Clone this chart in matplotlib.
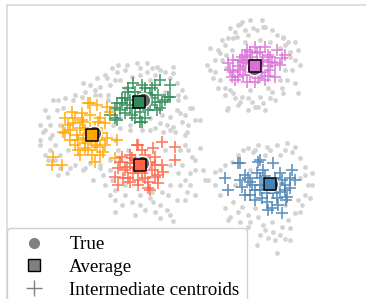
import matplotlib
matplotlib.use("Agg")
import matplotlib.pyplot as plt
from matplotlib.lines import Line2D

W, H = 366, 299
plt.rcParams['font.family'] = ['Liberation Serif', 'DejaVu Serif']

# ---- data (arbitrary plane units; y grows downward) ----
cluster_colors = ['orchid', 'seagreen', 'orange', 'tomato', 'steelblue']
true_x = [254, 143, 94, 142, 271]
true_y = [68, 100, 133, 163, 184]
avg_x = [255, 139, 92, 140, 270]
avg_y = [66, 102, 135, 165, 184]

dots_x = [262, 238, 230, 235, 245, 257, 265, 228, 237, 248, 277, 283, 288, 295, 298, 210, 220, 215, 207, 290,
          295, 292, 287, 295, 215, 220, 225, 233, 242, 248, 260, 272, 283, 275, 263, 255, 248, 238, 228, 298,
          213, 242, 240, 253, 263, 233, 283, 258, 225, 232, 270, 280, 226, 230, 280, 268, 250, 245, 260, 222,
          222, 218, 226, 285, 290, 285, 282, 270, 235, 225, 218, 210, 300, 240, 252, 265, 250, 272,
          127, 137, 147, 157, 173, 117, 107, 100, 110, 173, 177, 182, 192, 177, 170, 160, 97, 90, 83, 147,
          132, 160, 120, 180, 187, 173, 163, 150, 190, 182, 185, 175, 167, 118, 105, 125, 150, 165, 162, 150,
          108, 178, 185, 140, 155,
          112, 125, 140, 152, 165, 170, 178, 185, 170, 155, 142, 130, 100, 95, 115, 188, 195, 130,
          53, 48, 45, 50, 50, 43, 52, 58, 63, 73, 82, 67, 83, 93, 103, 90, 40, 45, 55, 60,
          70, 110, 118, 120, 120, 60, 57, 68, 100, 112, 95,
          45, 50, 40, 55, 60, 75, 85, 100, 110, 115, 113, 108, 65, 75, 85, 48, 58, 40,
          178, 185, 187, 177, 168, 162, 153, 145, 132, 125, 115, 112, 115, 135, 185, 192, 195, 167, 155, 173,
          152, 205, 203, 190, 120, 170, 182, 140, 128, 165,
          115, 122, 140, 150, 160, 170, 180, 190, 195, 188, 180, 125, 110, 105, 170, 160, 185, 195,
          287, 277, 267, 258, 248, 238, 232, 292, 300, 305, 312, 308, 305, 302, 295, 288, 282, 272, 258, 248,
          242, 233, 230, 208, 215, 265, 273, 248, 260, 277, 285, 228, 240, 257, 300, 298, 250, 265, 280, 235,
          255, 285,
          220, 225, 243, 253, 270, 285, 295, 305, 312, 300, 290, 275, 268, 250, 238, 225, 220, 215, 310, 255,
          280, 263, 245, 290,
          200, 227, 200]
dots_y = [20, 25, 28, 32, 30, 30, 27, 38, 37, 35, 35, 37, 42, 42, 50, 48, 53, 60, 65, 57,
          60, 70, 80, 83, 72, 80, 88, 93, 97, 98, 97, 92, 93, 100, 103, 107, 110, 105, 108, 93,
          78, 22, 24, 28, 27, 38, 38, 107, 45, 50, 42, 48, 68, 90, 80, 88, 90, 42, 40, 60,
          40, 50, 55, 45, 52, 70, 88, 98, 98, 95, 88, 70, 65, 102, 102, 110, 20, 30,
          65, 63, 63, 67, 67, 72, 78, 87, 85, 73, 83, 90, 108, 110, 117, 123, 78, 85, 83, 72,
          77, 70, 80, 113, 132, 127, 132, 130, 108, 122, 135, 132, 125, 65, 75, 88, 80, 92, 115, 118,
          95, 100, 97, 75, 75,
          68, 70, 68, 68, 72, 78, 95, 115, 130, 128, 130, 125, 95, 90, 80, 125, 120, 130,
          100, 117, 130, 138, 150, 132, 135, 100, 108, 100, 97, 173, 170, 180, 175, 163, 145, 155, 160, 168,
          168, 160, 150, 128, 118, 125, 110, 150, 168, 108, 95,
          110, 125, 140, 145, 155, 165, 168, 165, 170, 140, 125, 100, 98, 95, 92, 160, 175, 125,
          173, 180, 192, 200, 195, 192, 202, 210, 202, 195, 190, 180, 212, 215, 145, 157, 170, 210, 212, 221,
          192, 180, 170, 173, 160, 165, 165, 195, 150, 150,
          200, 205, 205, 198, 205, 185, 185, 185, 160, 150, 150, 185, 195, 185, 215, 218, 200, 195,
          143, 145, 147, 145, 148, 155, 162, 152, 158, 167, 173, 185, 195, 205, 213, 220, 227, 222, 217, 215,
          207, 202, 217, 180, 172, 230, 232, 227, 235, 253, 239, 220, 222, 245, 178, 200, 170, 155, 155, 185,
          208, 205,
          170, 165, 150, 152, 150, 150, 147, 175, 185, 212, 228, 240, 238, 222, 212, 208, 195, 185, 198, 150,
          235, 225, 232, 240,
          148, 110, 120]

cross_x = [
    [228, 233, 238, 242, 247, 255, 265, 277, 282, 275, 270, 275, 265, 255, 247, 240, 247, 263, 235, 250,
     260, 270, 243, 232, 257, 252,
     240, 245, 250, 260, 268, 272, 268, 262, 252, 245, 238, 233, 250, 258, 268, 280, 285, 230, 243, 262],
    [133, 142, 160, 170, 170, 158, 152, 128, 122, 117, 115, 125, 132, 142, 135, 150, 157, 152, 145, 117,
     110, 127, 162, 138, 168, 115, 140,
     130, 135, 145, 150, 155, 148, 140, 130, 125, 120, 160, 165, 135, 145, 128, 155, 122, 145],
    [88, 97, 72, 82, 65, 73, 83, 100, 105, 63, 77, 83, 102, 107, 75, 85, 97, 103, 92, 80,
     53, 52, 62, 90, 70, 115, 95, 110, 90, 107, 65, 117,
     80, 85, 95, 100, 95, 85, 78, 70, 75, 90, 98, 88, 78, 105, 68, 92, 82, 100],
    [138, 153, 162, 175, 175, 163, 155, 158, 148, 148, 138, 130, 123, 115, 118, 127, 132, 122, 145, 150,
     142, 133, 155, 137,
     130, 135, 148, 152, 145, 138, 128, 125, 120, 158, 162, 142, 130, 150, 118, 135, 155],
    [238, 258, 273, 292, 295, 290, 287, 277, 267, 268, 282, 255, 245, 242, 225, 228, 248, 257, 263, 280,
     278, 260, 252, 267, 285, 240, 260,
     260, 265, 275, 282, 285, 280, 273, 262, 255, 250, 245, 270, 278, 290, 262, 272, 250, 286, 240],
]
cross_y = [
    [63, 72, 77, 57, 50, 47, 47, 50, 58, 63, 70, 77, 80, 82, 82, 70, 63, 60, 80, 75,
     73, 57, 62, 77, 53, 57,
     60, 55, 52, 52, 55, 62, 66, 72, 72, 68, 66, 60, 60, 78, 76, 65, 55, 70, 75, 62],
    [83, 85, 80, 85, 97, 95, 88, 92, 98, 103, 108, 113, 115, 122, 108, 105, 110, 98, 93, 120,
     115, 105, 102, 97, 97, 118, 122,
     100, 92, 88, 95, 102, 110, 112, 108, 98, 110, 108, 100, 118, 118, 88, 85, 103, 100],
    [103, 105, 112, 113, 118, 123, 122, 118, 123, 132, 135, 138, 133, 138, 145, 148, 147, 152, 155, 155,
     157, 165, 165, 128, 140, 158, 162, 112, 103, 107, 133, 140,
     128, 130, 128, 140, 145, 143, 140, 130, 118, 115, 122, 150, 150, 145, 125, 140, 120, 155],
    [145, 148, 142, 147, 160, 172, 177, 183, 188, 182, 180, 182, 178, 177, 168, 167, 158, 157, 155, 163,
     173, 173, 157, 145,
     163, 160, 162, 170, 178, 185, 178, 170, 162, 175, 165, 150, 155, 190, 185, 168, 165],
    [163, 162, 163, 170, 180, 188, 197, 198, 202, 210, 213, 200, 195, 187, 178, 190, 178, 173, 170, 173,
     183, 190, 185, 193, 190, 163, 160,
     178, 176, 178, 180, 185, 192, 193, 198, 190, 182, 175, 188, 205, 178, 185, 208, 195, 200, 180],
]

# ---- figure ----
fig = plt.figure(figsize=(W / 100, H / 100), dpi=100)
# axes whose left/top edges sit inside the figure; right/bottom run off the canvas
x0, x1 = 7, 440
y0, y1 = 5, 360
ax = fig.add_axes([x0 / W, 1 - y1 / H, (x1 - x0) / W, (y1 - y0) / H])
ax.set_xlim(x0, x1)
ax.set_ylim(y1, y0)
ax.set_xticks([])
ax.set_yticks([])
for s in ax.spines.values():
    s.set_color('#d9d9d9')
    s.set_linewidth(1.2)

ax.scatter(dots_x, dots_y, s=12, color='#d3d3d3', linewidths=0, zorder=1)
for cx, cy, c in zip(cross_x, cross_y, cluster_colors):
    ax.scatter(cx, cy, s=72, marker='+', color=c, alpha=0.85, linewidths=1.2, zorder=2)
ax.scatter(true_x, true_y, s=110, color='#666666', edgecolors='white', linewidths=1.0, zorder=3)
ax.scatter(avg_x, avg_y, s=65, marker='s', c=cluster_colors, edgecolors='black', linewidths=1.1, zorder=4)

handles = [
    Line2D([], [], linestyle='none', marker='o', markersize=8, color='grey', markeredgewidth=0),
    Line2D([], [], linestyle='none', marker='s', markersize=9, markerfacecolor='grey',
           markeredgecolor='black', markeredgewidth=1.0),
    Line2D([], [], linestyle='none', marker='+', markersize=11, color='grey', markeredgewidth=1.0),
]
labels = ['True', 'Average', 'Intermediate centroids']
leg = fig.legend(handles, labels, loc='upper left', bbox_to_anchor=(7 / W, 1 - 228 / H),
                 bbox_transform=fig.transFigure, borderaxespad=0, fontsize=13.7,
                 labelspacing=0.28, handletextpad=0.85, borderpad=0.42, frameon=True,
                 fancybox=True, edgecolor='#d0d0d0', framealpha=1)
leg.get_frame().set_linewidth(1.0)

fig.savefig('out.png', dpi=100)
